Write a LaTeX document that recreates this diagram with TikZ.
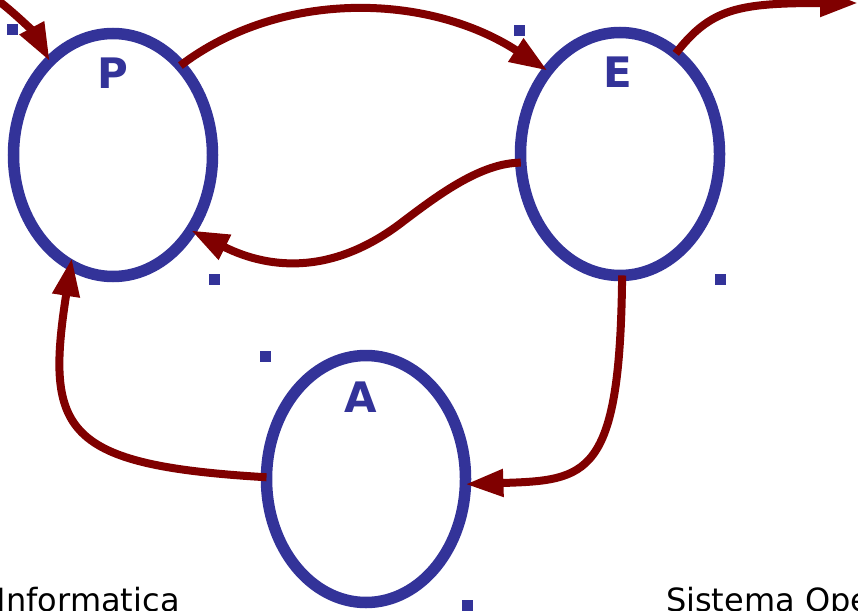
\documentclass[tikz,border=0pt]{standalone}
\usepackage{fontspec}
\setmainfont{DejaVu Sans}
\usetikzlibrary{
  arrows.meta,
  positioning,
  shapes.geometric
}
\definecolor{ring}{RGB}{51,51,153}
\definecolor{flow}{RGB}{128,0,0}

\begin{document}
\begin{tikzpicture}[
  x=1pt, y=-1pt,
  every node/.style={inner sep=0pt, outer sep=0pt},
  state/.style={ellipse, draw=ring, line width=11.5pt,
                minimum width=199pt, minimum height=243pt},
  statename/.style={font=\fontsize{42}{48}\selectfont\bfseries, text=ring},
  marker/.style={fill=ring, minimum size=11pt},
  trans/.style={draw=flow, line width=8pt,
                -{Triangle[length=38pt,width=26pt]}},
  footer/.style={font=\fontsize{32}{38}\selectfont, anchor=base west}
]

\useasboundingbox (0,0) rectangle (858,610);
\clip (0,0) rectangle (858,610);

% states
\node[state] (P) at (113,155) {};
\node[state] (E) at (620,154) {};
\node[state, minimum height=247pt] (A) at (366,479) {};

\node[statename] (Pname) at ([yshift=82pt]P.center) {P};
\node[statename] (Ename) at ([xshift=-2pt,yshift=82pt]E.center) {E};
\node[statename] (Aname) at ([xshift=-5pt,yshift=82pt]A.center) {A};

% small square markers
\foreach \nm/\x/\y in {m1/12/30, m2/519/31, m3/214/279,
                       m4/720/279, m5/265/356, m6/467/605}
  \node[marker] (\nm) at (\x,\y) {};

% transitions
\coordinate (entry) at (-8,-4);
\coordinate (exit) at (858,3);

\draw[trans] (entry) .. controls +(25,18) and +(-14,-26) .. (P.124);
\draw[trans] (P.53) .. controls +(100,-76) and +(-120,-78) .. (E.131);
\draw[trans] (E.185) .. controls +(-40,0) and +(32,-24) .. (405,220)
  .. controls +(-70,55) and +(80,40) .. (P.-44);
\draw[trans] (E.-89) .. controls +(-2,203) and +(122,-4) .. (A.-3);
\draw[trans, shorten >=-7pt] (A.179) .. controls +(-203,-12) and +(-26,167) .. (P.-111);
\draw[trans] (E.61) .. controls +(35,-45) and +(-120,0) .. (exit);

% footer
\node[footer] (course) at (-3,611) {Informatica};
\node[footer] (subject) at (666,611) {Sistema Operativo};

\end{tikzpicture}
\end{document}
